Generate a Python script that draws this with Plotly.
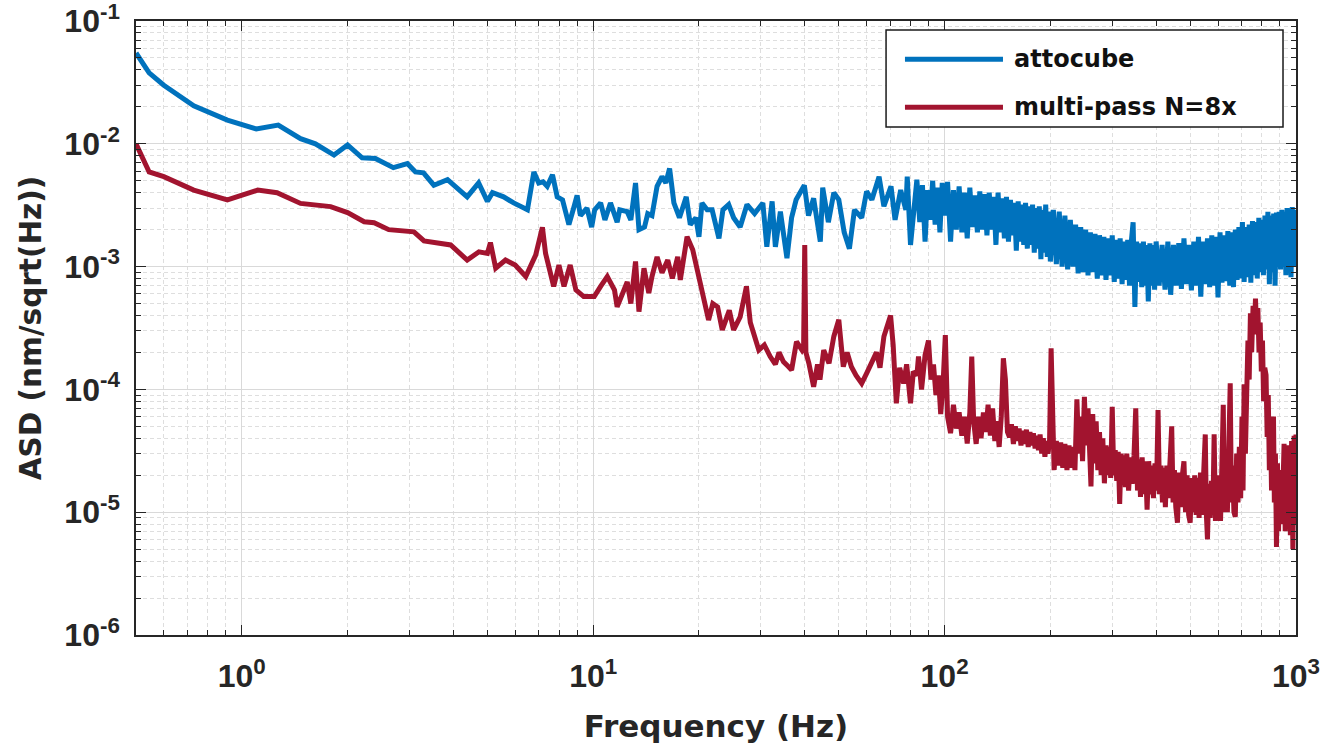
import math
import plotly.graph_objects as go

# ---------------- data ----------------
attocube_low = [
    (0.5, 5.5e-2), (0.545, 3.78e-2), (0.6, 3.0e-2), (0.73, 2.04e-2), (0.91, 1.56e-2),
    (1.1, 1.32e-2), (1.27, 1.42e-2), (1.47, 1.1e-2), (1.62, 1.0e-2), (1.83, 8.1e-3),
    (2.0, 9.8e-3), (2.2, 7.7e-3), (2.4, 7.6e-3), (2.7, 6.4e-3), (2.96, 6.9e-3),
    (3.12, 5.9e-3), (3.29, 5.8e-3), (3.52, 4.6e-3), (3.85, 5.1e-3), (4.38, 3.7e-3),
    (4.72, 4.8e-3), (5.0, 3.4e-3), (5.17, 4.0e-3), (5.56, 3.7e-3), (5.94, 3.3e-3),
    (6.5, 2.9e-3), (6.78, 5.9e-3), (7.0, 4.8e-3), (7.2, 4.9e-3), (7.4, 4.5e-3),
    (7.66, 5.6e-3), (7.9, 3.7e-3), (8.18, 3.5e-3), (8.53, 2.2e-3), (8.8, 3.0e-3),
    (9.0, 3.8e-3), (9.2, 2.6e-3), (9.6, 3.0e-3), (9.9, 2.1e-3), (10.1, 2.9e-3),
    (10.5, 3.3e-3), (10.8, 2.4e-3), (11.2, 3.3e-3), (11.7, 2.3e-3), (11.9, 2.9e-3),
    (12.5, 2.8e-3), (12.8, 2.4e-3), (13.2, 4.8e-3), (13.5, 2.0e-3), (14.0, 2.1e-3),
    (14.3, 2.7e-3), (14.7, 2.6e-3), (15.2, 4.5e-3), (15.7, 5.4e-3), (16.1, 4.8e-3),
    (16.5, 6.3e-3), (16.97, 3.3e-3), (17.6, 2.5e-3), (18.4, 3.7e-3), (18.9, 2.2e-3),
    (19.6, 2.5e-3), (20.0, 1.75e-3), (20.4, 3.3e-3), (21.1, 2.9e-3), (21.8, 2.9e-3),
    (22.8, 1.7e-3), (23.4, 2.9e-3), (24.3, 3.2e-3), (25.1, 2.5e-3), (26.2, 2.1e-3),
    (27.4, 3.2e-3), (28.8, 2.7e-3), (30.4, 3.3e-3), (31.2, 1.45e-3), (32.3, 3.4e-3),
    (33.0, 1.45e-3), (34.1, 2.8e-3), (35.6, 1.17e-3), (36.7, 2.5e-3), (37.8, 3.5e-3),
    (39.9, 4.6e-3), (41.0, 2.6e-3), (42.4, 3.6e-3), (44.3, 1.6e-3), (45.0, 4.4e-3),
    (46.7, 2.3e-3), (48.4, 4.0e-3), (50.0, 3.5e-3), (51.8, 1.9e-3), (53.6, 1.4e-3),
    (55.4, 2.9e-3), (58.1, 2.5e-3), (60.0, 4.1e-3), (62.1, 3.5e-3), (65.1, 5.4e-3),
    (67.2, 3.1e-3), (70.4, 4.5e-3), (72.3, 2.4e-3), (75.0, 4.2e-3), (77.6, 2.9e-3),
    (78.3, 5.4e-3), (80.0, 1.5e-3), (83.4, 5.1e-3),
]

attocube_high = [
    (85, 2.3e-3), (86.5, 4.6e-3), (88, 1.6e-3), (89.5, 4.2e-3), (91, 2.4e-3),
    (92.5, 5.0e-3), (94, 2.2e-3), (95.5, 4.4e-3), (97, 1.9e-3), (98.5, 4.8e-3),
    (100, 2.6e-3), (102, 4.9e-3), (104, 1.6e-3), (106, 4.2e-3), (108, 2.0e-3),
    (110, 4.5e-3), (112, 1.9e-3), (114, 4.0e-3), (116, 1.7e-3), (118, 4.4e-3),
    (120, 2.1e-3), (122, 3.8e-3), (124, 1.9e-3), (126, 4.1e-3), (128, 2.0e-3),
    (130, 3.9e-3), (132, 1.8e-3), (134, 4.0e-3), (136, 2.0e-3), (138, 3.7e-3),
    (140, 1.5e-3), (142, 4.0e-3), (144, 1.9e-3), (146, 3.6e-3), (148, 1.7e-3),
    (150, 3.7e-3), (152, 1.6e-3), (154, 3.5e-3), (156, 1.8e-3), (158, 3.3e-3),
    (160, 1.35e-3), (162, 3.4e-3), (164, 1.6e-3), (166, 3.2e-3), (168, 1.5e-3),
    (170, 3.3e-3), (172, 1.4e-3), (174, 3.1e-3), (176, 1.5e-3), (178, 3.2e-3),
    (180, 1.3e-3), (182, 3.0e-3), (184, 1.4e-3), (186, 3.1e-3), (188, 1.15e-3),
    (190, 2.9e-3), (192, 1.3e-3), (194, 3.2e-3), (196, 1.2e-3), (198, 2.8e-3),
    (200, 1.1e-3), (204, 2.9e-3), (208, 1.05e-3), (212, 2.8e-3), (216, 1.0e-3),
    (220, 2.6e-3), (224, 9.5e-4), (228, 2.4e-3), (232, 1.0e-3), (236, 2.2e-3),
    (240, 8.8e-4), (244, 2.1e-3), (248, 9.0e-4), (252, 2.0e-3), (256, 8.5e-4),
    (260, 1.9e-3), (264, 9.0e-4), (268, 1.85e-3), (272, 8.0e-4), (276, 1.8e-3),
    (280, 8.5e-4), (284, 1.75e-3), (288, 7.8e-4), (292, 1.7e-3), (296, 8.5e-4),
    (300, 1.8e-3), (304, 7.5e-4), (308, 1.65e-3), (312, 8.0e-4), (316, 1.7e-3),
    (320, 7.2e-4), (324, 1.6e-3), (328, 7.8e-4), (332, 1.65e-3), (336, 7.0e-4),
    (340, 1.6e-3), (344, 2.3e-3), (348, 4.7e-4), (352, 1.6e-3), (356, 7.5e-4),
    (360, 1.55e-3), (364, 6.8e-4), (368, 1.6e-3), (372, 7.0e-4), (376, 1.5e-3),
    (380, 5.2e-4), (384, 1.55e-3), (388, 7.0e-4), (392, 1.5e-3), (396, 6.5e-4),
    (400, 1.6e-3), (408, 7.0e-4), (416, 1.5e-3), (424, 6.5e-4), (432, 1.6e-3),
    (440, 5.9e-4), (448, 1.5e-3), (456, 7.0e-4), (464, 1.55e-3), (472, 6.6e-4),
    (480, 1.7e-3), (488, 7.2e-4), (496, 1.5e-3), (504, 6.4e-4), (512, 1.6e-3),
    (520, 7.0e-4), (528, 1.75e-3), (536, 5.7e-4), (544, 1.6e-3), (552, 7.2e-4),
    (560, 1.7e-3), (568, 6.8e-4), (576, 1.8e-3), (584, 7.0e-4), (592, 1.75e-3),
    (600, 5.6e-4), (608, 1.9e-3), (616, 7.4e-4), (624, 1.8e-3), (632, 7.6e-4),
    (640, 1.95e-3), (648, 7.0e-4), (656, 1.9e-3), (664, 6.8e-4), (672, 2.0e-3),
    (680, 7.8e-4), (688, 2.1e-3), (696, 8.0e-4), (704, 2.3e-3), (712, 7.5e-4),
    (720, 2.1e-3), (728, 8.2e-4), (736, 2.2e-3), (744, 7.4e-4), (752, 2.35e-3),
    (760, 8.5e-4), (768, 2.3e-3), (776, 8.0e-4), (784, 2.5e-3), (792, 9.0e-4),
    (800, 2.4e-3), (808, 8.5e-4), (816, 2.6e-3), (824, 9.5e-4), (832, 2.8e-3),
    (840, 7.2e-4), (848, 2.6e-3), (856, 9.0e-4), (864, 2.7e-3), (872, 7.0e-4),
    (880, 2.75e-3), (888, 1.0e-3), (896, 2.8e-3), (904, 9.5e-4), (912, 2.9e-3),
    (920, 1.0e-3), (928, 2.8e-3), (936, 8.5e-4), (944, 3.0e-3), (952, 1.05e-3),
    (960, 2.9e-3), (968, 8.2e-4), (976, 3.05e-3), (984, 1.1e-3), (992, 2.9e-3),
    (1000, 1.0e-3),
]

multipass_low = [
    (0.5, 1.0e-2), (0.545, 5.9e-3), (0.6, 5.4e-3), (0.73, 4.2e-3), (0.91, 3.5e-3),
    (1.11, 4.2e-3), (1.26, 4.0e-3), (1.47, 3.27e-3), (1.79, 3.08e-3), (2.0, 2.75e-3),
    (2.23, 2.32e-3), (2.38, 2.28e-3), (2.62, 2.0e-3), (3.09, 1.92e-3), (3.3, 1.62e-3),
    (3.93, 1.5e-3), (4.38, 1.13e-3), (4.73, 1.32e-3), (5.0, 1.28e-3), (5.1, 1.57e-3),
    (5.28, 9.7e-4), (5.63, 1.13e-3), (6.0, 1.03e-3), (6.43, 8.3e-4), (6.86, 1.24e-3),
    (7.17, 2.09e-3), (7.32, 1.28e-3), (7.72, 6.9e-4), (7.99, 1.03e-3), (8.26, 6.9e-4),
    (8.6, 1.03e-3), (8.93, 6.45e-4), (9.4, 5.7e-4), (10.07, 5.7e-4), (10.5, 6.9e-4),
    (10.97, 8.3e-4), (11.5, 6.45e-4), (11.7, 4.7e-4), (12.5, 7.5e-4), (12.8, 5.0e-4),
    (13.2, 1.1e-3), (13.5, 4.3e-4), (13.95, 9.7e-4), (14.4, 6.1e-4), (14.7, 8.3e-4),
    (15.2, 1.2e-3), (15.7, 8.9e-4), (16.3, 1.13e-3), (16.8, 8.0e-4), (17.4, 1.2e-3),
    (17.7, 7.8e-4), (18.5, 1.75e-3), (19.2, 1.37e-3), (20.0, 8.3e-4), (20.6, 6.1e-4),
    (21.3, 3.67e-4), (21.9, 5.0e-4), (22.6, 4.7e-4), (23.3, 3.05e-4), (24.4, 4.4e-4),
    (25.1, 3.05e-4), (26.2, 3.9e-4), (27.3, 6.9e-4), (28.0, 3.5e-4), (29.6, 2.09e-4),
    (30.7, 2.3e-4), (31.9, 1.85e-4), (33.0, 1.6e-4), (33.8, 2.0e-4), (34.8, 1.68e-4),
    (35.8, 1.55e-4), (36.7, 1.44e-4), (37.9, 2.45e-4), (39.3, 2.09e-4),
    (39.7, 2.2e-4), (40.0, 1.5e-3), (40.3, 2.0e-4), (41.1, 1.63e-4), (42.4, 1.05e-4),
    (43.5, 1.6e-4), (44.2, 1.2e-4), (45.3, 2.09e-4), (46.9, 1.63e-4), (48.4, 2.7e-4),
    (50.0, 3.7e-4), (51.5, 1.53e-4), (52.8, 2.0e-4), (54.3, 1.53e-4), (56.0, 1.3e-4),
    (58.1, 1.12e-4), (60.0, 1.35e-4), (62.0, 1.63e-4), (64.0, 2.0e-4), (65.5, 1.5e-4),
    (67.2, 2.7e-4), (70.2, 4.0e-4), (71.4, 2.3e-4), (72.9, 7.7e-5), (74.5, 1.5e-4),
    (76.5, 1.12e-4), (78.0, 1.6e-4), (80.0, 7.7e-5), (81.5, 1.4e-4), (83.4, 1.3e-4),
]

multipass_high = [
    (84.3, 1.85e-4), (86, 1.0e-4), (88, 1.9e-4), (90, 2.5e-4), (91.5, 1.2e-4),
    (93, 1.6e-4), (94.5, 9.0e-5), (96, 1.3e-4), (97.5, 6.3e-5), (99, 1.1e-4),
    (100.5, 2.77e-4), (102, 6.0e-5), (104, 4.4e-5), (106, 7.5e-5), (108, 4.8e-5),
    (110, 6.5e-5), (112, 4.2e-5), (114, 6.0e-5), (116, 3.63e-5), (118, 6.5e-5),
    (119.5, 1.85e-4), (121, 5.5e-5), (123, 3.6e-5), (125, 6.0e-5), (127, 4.0e-5),
    (129, 6.5e-5), (131, 4.5e-5), (133, 7.5e-5), (135, 4.2e-5), (137, 7.0e-5),
    (139, 3.8e-5), (141, 5.5e-5), (143, 3.4e-5), (145, 6.0e-5), (147, 1.79e-4),
    (149, 1.2e-4), (151, 4.5e-5), (153, 4.1e-5), (155, 5.2e-5), (157, 3.6e-5),
    (159, 5.0e-5), (161, 3.8e-5), (163, 4.8e-5), (165, 3.5e-5), (167, 4.6e-5),
    (169, 3.6e-5), (171, 4.7e-5), (173, 3.4e-5), (175, 4.5e-5), (177, 3.5e-5),
    (179, 4.4e-5), (181, 3.3e-5), (183, 4.2e-5), (185, 3.2e-5), (187, 4.3e-5),
    (189, 3.0e-5), (191, 4.0e-5), (193, 2.83e-5), (195, 3.8e-5), (197, 3.0e-5),
    (199, 3.9e-5), (201, 2.16e-4), (203, 3.5e-5), (205, 2.2e-5), (208, 3.8e-5),
    (211, 2.4e-5), (214, 3.7e-5), (217, 2.3e-5), (220, 3.6e-5), (223, 2.2e-5),
    (226, 3.5e-5), (229, 2.3e-5), (232, 3.4e-5), (235, 2.2e-5), (238, 8.3e-5),
    (241, 3.0e-5), (244, 6.0e-5), (247, 2.6e-5), (250, 8.7e-5), (253, 3.5e-5),
    (256, 7.0e-5), (259, 2.8e-5), (261, 1.62e-5), (264, 6.3e-5), (267, 2.5e-5),
    (270, 5.5e-5), (273, 2.2e-5), (276, 4.5e-5), (279, 2.0e-5), (282, 4.0e-5),
    (285, 1.72e-5), (288, 3.5e-5), (291, 2.0e-5), (294, 3.4e-5), (297, 1.9e-5),
    (300, 7.2e-5), (303, 2.0e-5), (306, 3.2e-5), (309, 1.8e-5), (312, 3.1e-5),
    (315, 1.17e-5), (318, 3.0e-5), (321, 1.7e-5), (324, 2.9e-5), (327, 1.6e-5),
    (330, 3.0e-5), (334, 1.5e-5), (338, 2.8e-5), (342, 1.7e-5), (346, 2.9e-5),
    (350, 7.0e-5), (354, 1.5e-5), (358, 2.7e-5), (361, 1.33e-5), (365, 2.8e-5),
    (369, 1.4e-5), (373, 2.6e-5), (377, 1.05e-5), (381, 2.6e-5), (385, 1.4e-5),
    (389, 2.4e-5), (393, 1.3e-5), (397, 2.5e-5), (401, 1.5e-5), (405, 6.8e-5),
    (409, 1.4e-5), (413, 2.4e-5), (417, 1.2e-5), (421, 2.3e-5), (425, 1.1e-5),
    (429, 2.4e-5), (433, 1.3e-5), (437, 2.2e-5), (443, 5.0e-5), (447, 1.2e-5),
    (451, 2.2e-5), (455, 1.1e-5), (460, 8.2e-6), (465, 2.1e-5), (470, 1.1e-5),
    (475, 2.0e-5), (480, 2.6e-5), (485, 1.0e-5), (490, 2.0e-5), (495, 9.5e-6),
    (500, 8.2e-6), (505, 1.9e-5), (510, 1.0e-5), (515, 2.0e-5), (520, 9.5e-6),
    (525, 1.9e-5), (530, 9.0e-6), (535, 2.1e-5), (540, 9.5e-6), (545, 1.8e-5),
    (552, 4.3e-5), (556, 9.5e-6), (560, 6.0e-6), (565, 1.7e-5), (570, 9.0e-6),
    (575, 1.8e-5), (580, 9.5e-6), (585, 4.3e-5), (590, 8.5e-6), (595, 1.8e-5),
    (600, 9.5e-6), (605, 2.0e-5), (610, 8.5e-6), (615, 2.2e-5), (621, 7.5e-5),
    (626, 1.0e-5), (632, 2.4e-5), (638, 1.0e-5), (644, 2.7e-5), (650, 1.12e-4),
    (655, 1.2e-5), (660, 2.4e-5), (666, 1.0e-5), (672, 9.2e-6), (678, 3.0e-5),
    (684, 1.2e-5), (690, 3.4e-5), (696, 1.3e-5), (702, 6.0e-5), (707, 1.5e-5),
    (712, 1.1e-4), (718, 3.0e-5), (724, 9.0e-5), (730, 2.5e-4), (736, 1.2e-4),
    (742, 4.17e-4), (748, 2.0e-4), (755, 4.8e-4), (761, 2.8e-4), (767, 5.5e-4),
    (773, 3.0e-4), (779, 4.6e-4), (785, 2.0e-4), (791, 3.5e-4), (797, 1.4e-4),
    (803, 2.5e-4), (809, 8.0e-5), (815, 1.5e-4), (822, 1.31e-4), (828, 4.1e-5),
    (834, 9.0e-5), (840, 2.2e-5), (846, 6.0e-5), (852, 1.5e-5), (858, 4.5e-5),
    (863, 6.0e-5), (868, 1.2e-5), (874, 3.0e-5), (880, 5.2e-6), (886, 2.5e-5),
    (892, 7.0e-6), (898, 2.2e-5), (904, 8.0e-6), (910, 2.0e-5), (918, 1.5e-5),
    (925, 3.6e-5), (932, 7.0e-6), (940, 3.0e-5), (948, 8.0e-6), (956, 3.5e-5),
    (964, 6.5e-6), (972, 3.8e-5), (980, 5.0e-6), (988, 4.2e-5), (994, 8.0e-6),
    (1000, 4.3e-5),
]

series_names = ["attocube", "multi-pass N=8x"]
x_tick_values = [1, 10, 100, 1000]
x_tick_labels = ["10<sup>0</sup>", "10<sup>1</sup>", "10<sup>2</sup>", "10<sup>3</sup>"]
y_tick_values = [1e-6, 1e-5, 1e-4, 1e-3, 1e-2, 1e-1]
y_tick_labels = ["10<sup>-6</sup>", "10<sup>-5</sup>", "10<sup>-4</sup>",
                 "10<sup>-3</sup>", "10<sup>-2</sup>", "10<sup>-1</sup>"]

# ---------------- styling ----------------
BLUE = "#0072BD"
RED = "#A2142F"
AX = "#262626"
MAJOR_GRID = "#d9d9d9"
MINOR_GRID = "#dedede"
LW = 5

att = attocube_low + attocube_high
mp = multipass_low + multipass_high

fig = go.Figure()
fig.add_trace(go.Scatter(x=[p[0] for p in att], y=[p[1] for p in att], mode="lines",
                         name=series_names[0], line=dict(color=BLUE, width=LW),
                         showlegend=False))
fig.add_trace(go.Scatter(x=[p[0] for p in mp], y=[p[1] for p in mp], mode="lines",
                         name=series_names[1], line=dict(color=RED, width=LW),
                         showlegend=False))

x_minor = [m * 10 ** k for k in range(-1, 3) for m in range(2, 10) if 0.5 < m * 10 ** k < 1000]
y_minor = [m * 10 ** k for k in range(-6, -1) for m in range(2, 10)]

tick_font = dict(family="Liberation Sans, Arial, sans-serif", size=32, color=AX, weight="bold")

common_axis = dict(
    type="log", showline=True, linecolor=AX, linewidth=1.5, mirror="allticks",
    ticks="inside", ticklen=10, tickwidth=1.2, tickcolor=AX,
    showgrid=True, gridcolor=MAJOR_GRID, gridwidth=1, zeroline=False,
    tickfont=tick_font, ticklabeloverflow="allow", automargin=False,
)

fig.update_xaxes(
    **common_axis,
    range=[math.log10(0.5), 3.0001],
    tickmode="array", tickvals=x_tick_values, ticktext=x_tick_labels,
    ticklabelstandoff=12,
    minor=dict(tickmode="array", tickvals=x_minor, ticks="inside", ticklen=5,
               tickcolor=AX, showgrid=True, gridcolor=MINOR_GRID, griddash="4px,3px",
               gridwidth=1),
    title=dict(text="Frequency (Hz)",
               font=dict(family="DejaVu Sans, sans-serif", size=31, color=AX, weight="bold"),
               standoff=22),
)
fig.update_yaxes(
    **common_axis,
    range=[-6.0001, -0.9999],
    tickmode="array", tickvals=y_tick_values, ticktext=y_tick_labels,
    ticklabelstandoff=8,
    minor=dict(tickmode="array", tickvals=y_minor, ticks="inside", ticklen=5,
               tickcolor=AX, showgrid=True, gridcolor=MINOR_GRID, griddash="4px,3px",
               gridwidth=1),
    title=dict(text="ASD (nm/sqrt(Hz))",
               font=dict(family="DejaVu Sans, sans-serif", size=29.5, color=AX, weight="bold"),
               standoff=14),
)

# ---------------- legend (drawn as a boxed key, like the reference) ----------------
leg_x0, leg_x1, leg_y0, leg_y1 = 0.6466, 0.9888, 0.8274, 0.9853
fig.add_shape(type="rect", xref="paper", yref="paper", x0=leg_x0, x1=leg_x1,
              y0=leg_y0, y1=leg_y1, line=dict(color="#1a1a1a", width=1.5),
              fillcolor="white", layer="above")
legend_rows = [0.9376, 0.8594]
for name, color, yy in zip(series_names, [BLUE, RED], legend_rows):
    fig.add_shape(type="line", xref="paper", yref="paper", x0=0.6629, x1=0.7474,
                  y0=yy, y1=yy, line=dict(color=color, width=LW), layer="above")
    fig.add_annotation(xref="paper", yref="paper", x=0.7555, y=yy, text=name,
                       showarrow=False, xanchor="left", yanchor="middle",
                       font=dict(family="DejaVu Sans, sans-serif", size=24, color="#111111",
                                 weight="bold"))

fig.update_layout(
    width=1337, height=746,
    margin=dict(l=136, r=41, t=21, b=111),
    paper_bgcolor="white", plot_bgcolor="white",
    showlegend=False,
)

fig.write_html("out.html")
